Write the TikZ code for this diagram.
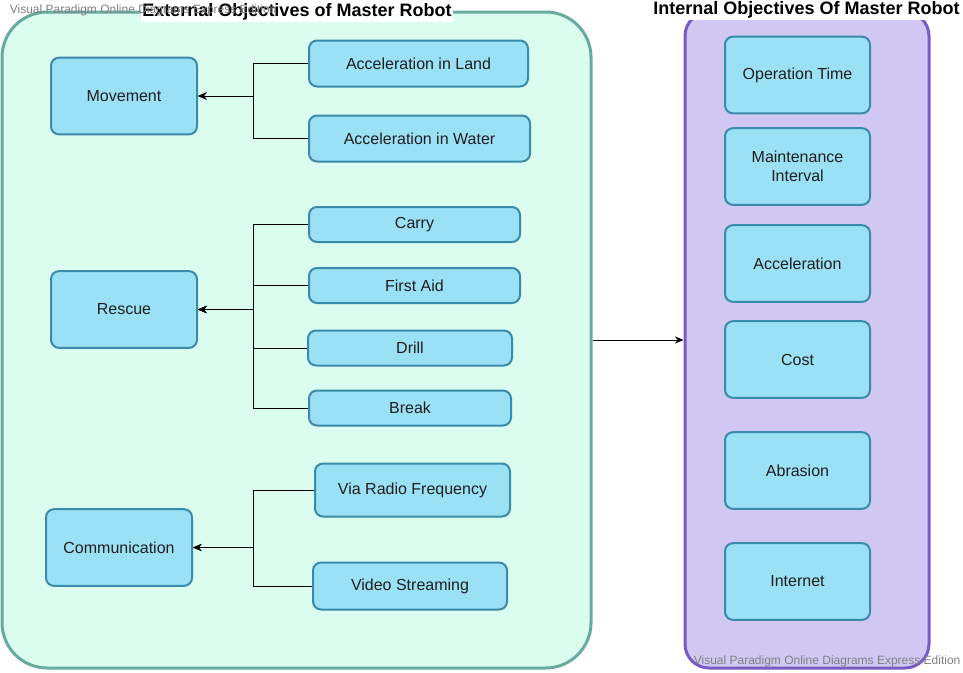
\documentclass[tikz,border=0pt]{standalone}
\usepackage{fontspec}
\setmainfont{Liberation Sans}
\usetikzlibrary{arrows.meta}
\definecolor{boxfill}{RGB}{155,225,246}
\definecolor{boxline}{RGB}{58,138,170}
\definecolor{extfill}{RGB}{219,253,240}
\definecolor{extline}{RGB}{103,171,159}
\definecolor{intfill}{RGB}{208,200,242}
\definecolor{intline}{RGB}{120,92,198}
\definecolor{textdark}{RGB}{30,30,30}

\begin{document}
\begin{tikzpicture}[x=0.75pt,y=-0.75pt,semithick,
    box/.style={draw=boxline,fill=boxfill,rounded corners=6pt,line width=1.5pt,
      text=textdark,font=\fontsize{12}{14}\selectfont,align=center,inner sep=0pt},
    big/.style={box,minimum width=109.5pt,minimum height=57.5pt},
    wide/.style={box,minimum width=165pt,minimum height=34.5pt},
    slim/.style={box,minimum height=26.25pt},
    title/.style={fill=white,inner sep=1pt,font=\bfseries\fontsize{13.5}{15}\selectfont},
    wmark/.style={text=gray,font=\fontsize{9}{10}\selectfont},
    link/.style={-{Stealth[length=6.5pt,width=5.5pt]},line width=0.75pt}]
  \useasboundingbox (0,0) rectangle (963,672);
  \node[draw=extline,fill=extfill,line width=2.25pt,rounded corners=34pt,
    minimum width=441.75pt,minimum height=492pt] (ext) at (296.5,340) {};
  \node[draw=intline,fill=intfill,line width=2.25pt,rounded corners=18pt,
    minimum width=183pt,minimum height=492pt] (int) at (807,340) {};
  \node[title] (exttitle) at (297,12) {External Objectives of Master Robot};
  \node[title] (inttitle) at (806.5,10) {Internal Objectives Of Master Robot};
  \coordinate (trunk) at (253,0);

  \node[big] (move) at (124,96) {Movement};
  \node[wide,minimum width=164.25pt] (land) at (418.5,63.5) {Acceleration in Land};
  \node[wide,minimum width=165.75pt] (water) at (419.5,138.5) {Acceleration in Water};

  \node[big] (rescue) at (124,309.5) {Rescue};
  \node[slim,minimum width=158.25pt] (carry) at (414.5,224.5) {Carry};
  \node[slim,minimum width=158.25pt] (aid) at (414.5,285.5) {First Aid};
  \node[slim,minimum width=153pt] (drill) at (410,348) {Drill};
  \node[slim,minimum width=151.5pt] (break) at (410,408) {Break};

  \node[big] (comm) at (119,547.5) {Communication};
  \node[box,minimum width=146.25pt,minimum height=39.75pt] (radio) at (412.5,490) {Via Radio Frequency};
  \node[box,minimum width=145.5pt,minimum height=35.25pt] (video) at (410,586) {Video Streaming};

  \node[big,minimum width=108.75pt] (optime) at (797.5,75) {Operation Time};
  \node[big,minimum width=108.75pt] (maint) at (797.5,166.5) {Maintenance\\Interval};
  \node[big,minimum width=108.75pt] (accel) at (797.5,263.5) {Acceleration};
  \node[big,minimum width=108.75pt] (cost) at (797.5,359.5) {Cost};
  \node[big,minimum width=108.75pt] (abr) at (797.5,470.5) {Abrasion};
  \node[big,minimum width=108.75pt] (net) at (797.5,581.5) {Internet};

  \foreach \c/\p in {land/move,water/move,carry/rescue,aid/rescue,drill/rescue,
      break/rescue,radio/comm,video/comm}
    \draw[link] (\c.west) -- (\c.west -| trunk) |- (\p.east);
  \draw[link] (ext.east) -- (int.west);

  \node[wmark,anchor=west] (markone) at (5,10) {Visual Paradigm Online Diagrams Express Edition};
  \node[wmark,anchor=west] (marktwo) at (689,661) {Visual Paradigm Online Diagrams Express Edition};
\end{tikzpicture}
\end{document}
